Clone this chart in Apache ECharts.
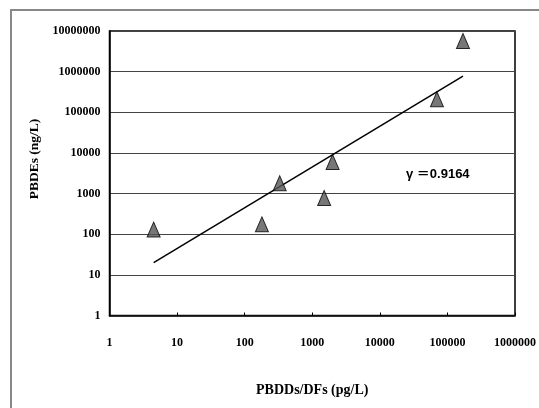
<!DOCTYPE html>
<html>
<head>
<meta charset="utf-8">
<script src="https://cdn.jsdelivr.net/npm/echarts@6/dist/echarts.min.js"></script>
<style>html,body{margin:0;padding:0;background:#fff}#c{width:539px;height:408px}</style>
</head>
<body>
<div id="c"></div>
<script>
// Data
const pbddX = [4.5, 180, 330, 1500, 2000, 70000, 170000];
const pbdeY = [130, 175, 1800, 780, 6000, 210000, 5700000];
const trendX = [4.5, 170000];
const trendY = [20, 780000];
const xTitle = 'PBDDs/DFs (pg/L)';
const yTitle = 'PBDEs (ng/L)';
const rText = '\u03b3 \uff1d0.9164';

const chart = echarts.init(document.getElementById('c'), null, {renderer: 'canvas'});
const serif = '"Liberation Serif", "DejaVu Serif", serif';
const fmt = v => String(Math.round(v));
chart.setOption({
  animation: false,
  backgroundColor: '#fff',
  grid: {left: 109.5, right: 19, top: 31, bottom: 92.5, show: true, borderColor: '#000', borderWidth: 1.5},
  xAxis: {
    type: 'log', logBase: 10, min: 1, max: 1000000,
    name: xTitle, nameLocation: 'middle', nameGap: 68,
    nameTextStyle: {fontFamily: serif, fontWeight: 'bold', fontSize: 14, color: '#000'},
    axisLine: {show: true, lineStyle: {color: '#000', width: 1.5}},
    axisTick: {show: true, inside: true, length: 3, lineStyle: {color: '#000'}},
    minorTick: {show: false},
    splitLine: {show: false},
    axisLabel: {formatter: fmt, margin: 21, fontFamily: serif, fontWeight: 'bold', fontSize: 12, color: '#000'}
  },
  yAxis: {
    type: 'log', logBase: 10, min: 1, max: 10000000,
    axisLine: {show: true, lineStyle: {color: '#000', width: 1.5}},
    axisTick: {show: false},
    splitLine: {show: true, lineStyle: {color: '#444', width: 1}},
    axisLabel: {formatter: fmt, margin: 9, fontFamily: serif, fontWeight: 'bold', fontSize: 12, color: '#000'}
  },
  series: [
    {
      type: 'line', data: trendX.map((x, i) => [x, trendY[i]]),
      showSymbol: false, symbol: 'none', lineStyle: {color: '#000', width: 1.5}, z: 3
    },
    {
      type: 'scatter', data: pbddX.map((x, i) => [x, pbdeY[i]]),
      symbol: 'triangle', symbolSize: [13, 15],
      itemStyle: {color: '#555', borderColor: '#000', borderWidth: 1}, z: 4
    }
  ],
  graphic: [
    {type: 'rect', shape: {x: 11, y: 10, width: 700, height: 600}, style: {fill: 'none', stroke: '#888', lineWidth: 2}, silent: true},
    {type: 'text', x: 35, y: 159, rotation: Math.PI / 2,
     style: {text: yTitle, font: 'bold 13.5px "Liberation Serif", serif', fill: '#000', align: 'center', verticalAlign: 'middle'}},
    {type: 'text', x: 406, y: 174,
     style: {text: rText, font: 'bold 13px "Liberation Sans", "Noto Sans CJK JP", sans-serif', fill: '#000', verticalAlign: 'middle'}}
  ]
});
</script>
</body>
</html>
